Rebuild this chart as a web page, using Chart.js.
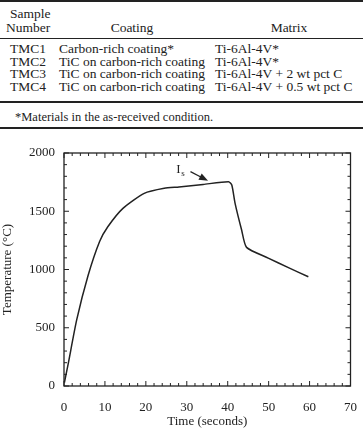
<!DOCTYPE html>
<html>
<head>
<meta charset="utf-8">
<script src="https://cdn.jsdelivr.net/npm/chart.js@4/dist/chart.umd.min.js"></script>
<style>
  body { margin: 0; width: 363px; height: 429px; background: #fff; position: relative; overflow: hidden;
         font-family: "Liberation Serif", serif; color: #222; }
  .t { position: absolute; font-size: 13.5px; line-height: 13px; white-space: nowrap; }
  .c { transform: translateX(-50%); }
  .r { position: absolute; left: 0; width: 363px; background: #222; }
  #box { position: absolute; left: 0; top: 140px; width: 363px; height: 289px; }
</style>
</head>
<body>
<!-- table above the chart -->
<div class="r" style="top:0;height:2px"></div>
<div class="t" style="left:10px;top:7px">Sample</div>
<div class="t" style="left:6px;top:21px">Number</div>
<div class="t c" style="left:132px;top:21px">Coating</div>
<div class="t c" style="left:289px;top:21px">Matrix</div>
<div class="r" style="top:38px;height:1px"></div>
<div class="t" style="left:10px;top:42px">TMC1</div>
<div class="t" style="left:59px;top:42px">Carbon-rich coating*</div>
<div class="t" style="left:215px;top:42px">Ti-6Al-4V*</div>
<div class="t" style="left:10px;top:54.5px">TMC2</div>
<div class="t" style="left:59px;top:54.5px">TiC on carbon-rich coating</div>
<div class="t" style="left:215px;top:54.5px">Ti-6Al-4V*</div>
<div class="t" style="left:10px;top:67px">TMC3</div>
<div class="t" style="left:59px;top:67px">TiC on carbon-rich coating</div>
<div class="t" style="left:215px;top:67px">Ti-6Al-4V + 2 wt pct C</div>
<div class="t" style="left:10px;top:79.5px">TMC4</div>
<div class="t" style="left:59px;top:79.5px">TiC on carbon-rich coating</div>
<div class="t" style="left:215px;top:79.5px">Ti-6Al-4V + 0.5 wt pct C</div>
<div class="r" style="top:101px;height:1.5px"></div>
<div class="t" style="left:15px;top:111px;font-size:12.5px">*Materials in the as-received condition.</div>
<div class="r" style="top:127px;height:2px"></div>

<div id="box"><canvas id="chart" width="363" height="289"></canvas></div>

<script>
// temperature trace
const time        = [0.1, 1.05, 3.1, 5.9, 8.7, 10.7, 14.4, 19.6, 24.5, 28.1, 34, 40.2, 41, 41.8, 43.4, 44.6, 49.9, 54.7, 59.7];
const temperature = [30, 195, 567, 950, 1240, 1367, 1525, 1654, 1697, 1708, 1730, 1754, 1725, 1568, 1339, 1190, 1098, 1018, 938];

const xTicks = [0, 10, 20, 30, 40, 50, 60, 70];
const yTicks = [0, 500, 1000, 1500, 2000];

const ink = '#222';
const serif = '"Liberation Serif", serif';

// frame, inward ticks on all sides, and the I_s arrow
const frame = {
  id: 'frame',
  afterDatasetsDraw(chart) {
    const { ctx, chartArea: a, scales: { x, y } } = chart;
    ctx.save();
    ctx.strokeStyle = ink;
    ctx.lineWidth = 1.3;
    ctx.strokeRect(a.left, a.top, a.right - a.left, a.bottom - a.top);

    ctx.lineWidth = 1;
    ctx.beginPath();
    for (let v = 0; v <= 70; v += 2) {
      const px = x.getPixelForValue(v);
      const len = v % 10 === 0 ? 5 : 3;
      ctx.moveTo(px, a.bottom); ctx.lineTo(px, a.bottom - len);
      ctx.moveTo(px, a.top); ctx.lineTo(px, a.top + len);
    }
    for (let v = 0; v <= 2000; v += 100) {
      const py = y.getPixelForValue(v);
      const len = v % 500 === 0 ? 5 : 3;
      ctx.moveTo(a.left, py); ctx.lineTo(a.left + len, py);
      ctx.moveTo(a.right, py); ctx.lineTo(a.right - len, py);
    }
    ctx.stroke();

    // arrow pointing at the peak
    const x0 = x.getPixelForValue(30.9), y0 = y.getPixelForValue(1840);
    const x1 = x.getPixelForValue(35.2), y1 = y.getPixelForValue(1762);
    const ang = Math.atan2(y1 - y0, x1 - x0);
    ctx.lineWidth = 1.2;
    ctx.beginPath();
    ctx.moveTo(x0, y0);
    ctx.lineTo(x1 - 6 * Math.cos(ang), y1 - 6 * Math.sin(ang));
    ctx.stroke();
    ctx.fillStyle = ink;
    ctx.beginPath();
    ctx.moveTo(x1, y1);
    ctx.lineTo(x1 - 9 * Math.cos(ang) + 3.5 * Math.sin(ang), y1 - 9 * Math.sin(ang) - 3.5 * Math.cos(ang));
    ctx.lineTo(x1 - 9 * Math.cos(ang) - 3.5 * Math.sin(ang), y1 - 9 * Math.sin(ang) + 3.5 * Math.cos(ang));
    ctx.closePath();
    ctx.fill();

    // label
    const lx = x.getPixelForValue(27.4), ly = y.getPixelForValue(1828);
    ctx.textBaseline = 'alphabetic';
    ctx.font = '13px ' + serif;
    ctx.fillText('I', lx, ly);
    ctx.font = '9px ' + serif;
    ctx.fillText('s', lx + 5, ly + 3);
    ctx.restore();
  }
};

new Chart(document.getElementById('chart'), {
  type: 'line',
  data: {
    datasets: [{
      data: time.map((t, i) => ({ x: t, y: temperature[i] })),
      borderColor: ink,
      borderWidth: 1.5,
      pointRadius: 0,
      tension: 0.2,
      fill: false,
    }],
  },
  options: {
    responsive: false,
    animation: false,
    layout: { padding: { top: 13, right: 10, left: 0, bottom: 0 } },
    plugins: { legend: { display: false }, tooltip: { enabled: false } },
    scales: {
      x: {
        type: 'linear',
        min: 0,
        max: 70,
        afterBuildTicks: s => { s.ticks = xTicks.map(v => ({ value: v })); },
        afterFit: s => { s.height = 43; },
        grid: { display: false },
        border: { display: false },
        ticks: { padding: 6, color: ink, font: { family: serif, size: 13 }, maxRotation: 0,
                 callback: v => String(v) },
        title: { display: true, text: 'Time (seconds)', color: ink, padding: { top: 0, bottom: 0 },
                 font: { family: serif, size: 13 } },
      },
      y: {
        min: 0,
        max: 2000,
        afterBuildTicks: s => { s.ticks = yTicks.map(v => ({ value: v })); },
        afterFit: s => { s.width = 64; },
        grid: { display: false },
        border: { display: false },
        ticks: { padding: 1, color: ink, font: { family: serif, size: 13 }, callback: v => String(v) },
        title: { display: true, text: 'Temperature (°C)', color: ink, padding: { top: 0, bottom: 0 },
                 font: { family: serif, size: 13 } },
      },
    },
  },
  plugins: [frame],
});
</script>
</body>
</html>
